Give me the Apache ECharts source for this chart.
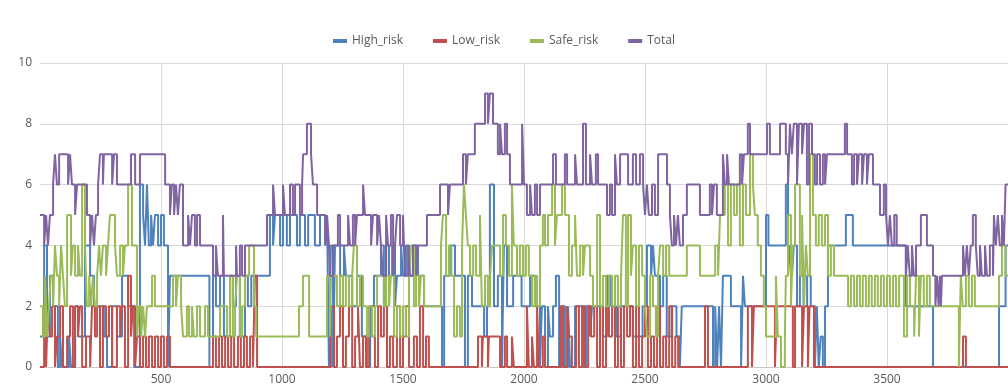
<!DOCTYPE html>
<html>
<head>
<meta charset="utf-8">
<script src="https://cdn.jsdelivr.net/npm/echarts@6/dist/echarts.min.js"></script>
<style>html,body{margin:0;padding:0;background:#fff;}#chart{width:1008px;height:390px;}</style>
</head>
<body>
<div id="chart"></div>
<script>
const seriesNames = ['High_risk', 'Low_risk', 'Safe_risk', 'Total'];

const highRisk = [[0,1],[17,4],[29,1],[41,3],[54,2],[74,0],[83,1],[91,0],[120,1],[128,0],[145,2],[157,1],[186,4],[207,3],[223,2],[264,1],[277,0],[298,2],[318,1],[339,3],[364,2],[389,0],[413,6],[426,5],[434,4],[442,6],[450,4],[459,5],[467,4],[475,5],[488,4],[500,5],[512,4],[529,0],[537,3],[700,0],[715,3],[727,2],[744,3],[760,1],[785,3],[797,2],[810,3],[826,1],[847,3],[859,2],[873,3],[950,5],[963,4],[971,5],[992,4],[1004,5],[1020,4],[1033,5],[1062,4],[1074,5],[1095,4],[1108,5],[1136,4],[1157,5],[1178,4],[1186,5],[1194,0],[1202,4],[1211,0],[1219,4],[1240,3],[1256,4],[1264,3],[1290,2],[1310,3],[1330,1],[1351,0],[1364,2],[1380,3],[1409,4],[1421,2],[1430,4],[1442,3],[1455,4],[1467,2],[1475,3],[1492,4],[1500,3],[1512,4],[1525,3],[1541,4],[1562,3],[1587,2],[1661,0],[1670,3],[1694,4],[1715,3],[1756,0],[1768,3],[1785,2],[1835,1],[1847,2],[1859,6],[1876,2],[1892,3],[1909,0],[1917,4],[1930,2],[1955,3],[1990,2],[2025,3],[2045,2],[2066,0],[2074,2],[2087,0],[2099,2],[2107,1],[2120,2],[2132,3],[2145,0],[2157,2],[2169,0],[2182,2],[2190,0],[2211,2],[2244,0],[2256,2],[2273,1],[2281,2],[2326,1],[2343,3],[2360,2],[2380,1],[2400,2],[2450,1],[2490,2],[2508,4],[2525,3],[2533,4],[2541,3],[2562,2],[2575,3],[2590,1],[2610,2],[2630,1],[2644,0],[2652,2],[2781,0],[2790,2],[2798,0],[2806,2],[2814,0],[2822,3],[2855,2],[2897,0],[2905,3],[2913,2],[3000,5],[3010,4],[3082,6],[3091,3],[3099,4],[3107,3],[3115,4],[3128,2],[3140,3],[3155,2],[3170,3],[3185,2],[3202,0],[3210,2],[3218,0],[3226,1],[3235,0],[3244,2],[3256,4],[3330,5],[3359,4],[3578,2],[3690,0],[3963,2],[3990,4],[4000,4]];

const lowRisk = [[0,0],[17,2],[25,0],[33,2],[41,1],[50,2],[62,0],[70,1],[83,2],[95,0],[112,1],[124,2],[136,0],[145,2],[157,1],[165,2],[174,0],[190,1],[207,0],[215,2],[227,1],[236,2],[248,0],[260,2],[273,1],[285,2],[298,0],[318,2],[331,1],[339,2],[351,0],[364,3],[376,1],[384,2],[393,0],[401,1],[413,0],[426,1],[438,0],[450,1],[463,0],[475,1],[488,0],[500,1],[512,0],[525,1],[537,0],[715,1],[727,0],[740,1],[752,0],[765,1],[777,0],[790,1],[802,0],[818,1],[830,0],[843,1],[855,0],[868,1],[880,0],[888,3],[897,0],[1202,2],[1215,0],[1227,1],[1240,2],[1252,0],[1264,1],[1277,2],[1290,0],[1302,1],[1314,2],[1322,0],[1335,1],[1347,0],[1360,2],[1372,1],[1384,0],[1397,2],[1409,1],[1421,2],[1434,0],[1446,1],[1459,0],[1475,2],[1488,0],[1500,1],[1512,2],[1525,0],[1545,1],[1558,0],[1570,2],[1583,0],[1595,1],[1607,0],[1810,1],[1826,0],[1830,1],[1851,0],[1855,1],[1901,0],[1921,1],[1930,0],[1950,1],[1958,0],[2012,2],[2020,0],[2033,1],[2041,0],[2054,2],[2062,0],[2078,1],[2087,0],[2149,2],[2161,0],[2178,2],[2186,1],[2198,0],[2215,2],[2227,0],[2240,2],[2252,0],[2265,2],[2277,1],[2290,2],[2302,0],[2314,2],[2326,0],[2339,2],[2351,1],[2364,2],[2376,0],[2388,2],[2401,0],[2413,2],[2426,1],[2438,2],[2450,0],[2463,2],[2475,0],[2488,1],[2500,2],[2512,0],[2525,1],[2537,0],[2550,2],[2562,0],[2575,1],[2587,0],[2600,2],[2612,0],[2625,1],[2637,0],[2748,2],[2760,0],[2925,2],[2942,0],[2950,2],[3037,0],[3045,2],[3111,0],[3120,2],[3149,0],[3157,2],[3173,0],[3180,2],[3198,0],[3814,1],[3826,0],[4000,0]];

const safeRisk = [[0,2],[12,1],[21,3],[29,1],[37,2],[45,3],[54,2],[62,4],[70,3],[79,2],[87,4],[95,3],[103,2],[112,5],[128,3],[136,4],[145,3],[157,4],[165,3],[174,6],[186,4],[194,2],[203,3],[211,2],[219,3],[227,2],[236,3],[244,4],[252,3],[260,4],[273,3],[281,4],[289,5],[310,4],[318,3],[331,4],[343,3],[351,4],[364,6],[380,4],[401,1],[409,2],[418,1],[426,2],[434,1],[442,2],[463,3],[475,2],[550,3],[562,2],[570,3],[583,2],[591,1],[607,2],[616,1],[628,2],[636,1],[649,2],[661,1],[682,2],[694,1],[744,2],[773,1],[785,3],[797,1],[806,2],[814,3],[826,1],[835,2],[847,3],[864,4],[884,2],[893,1],[1070,2],[1087,3],[1112,1],[1186,3],[1198,1],[1202,3],[1227,2],[1240,3],[1252,2],[1264,3],[1277,2],[1290,3],[1297,4],[1310,2],[1322,3],[1335,2],[1351,1],[1360,2],[1372,1],[1384,2],[1393,3],[1421,2],[1430,3],[1442,2],[1450,3],[1463,1],[1475,2],[1488,1],[1500,2],[1512,1],[1525,3],[1533,4],[1545,2],[1554,3],[1566,2],[1574,3],[1587,2],[1657,4],[1665,5],[1678,3],[1690,4],[1700,3],[1711,1],[1723,2],[1735,1],[1744,4],[1752,6],[1760,5],[1768,4],[1777,3],[1790,4],[1802,3],[1818,5],[1826,2],[1839,3],[1851,2],[1860,3],[1868,4],[1901,3],[1913,5],[1925,4],[1938,3],[1950,6],[1958,4],[1971,3],[1983,4],[1996,3],[2008,4],[2020,3],[2033,2],[2045,3],[2054,2],[2066,4],[2078,5],[2087,4],[2099,5],[2116,6],[2128,4],[2136,5],[2157,6],[2169,5],[2186,3],[2198,4],[2211,5],[2219,3],[2232,4],[2244,3],[2252,4],[2273,3],[2285,2],[2302,5],[2314,2],[2326,3],[2339,2],[2351,3],[2364,2],[2376,3],[2388,2],[2401,3],[2409,5],[2421,2],[2430,5],[2442,3],[2450,4],[2463,2],[2475,4],[2488,3],[2500,2],[2508,1],[2521,3],[2533,2],[2545,1],[2554,3],[2562,4],[2575,3],[2587,4],[2600,3],[2673,4],[2727,3],[2790,4],[2802,3],[2810,5],[2830,6],[2843,4],[2855,6],[2868,5],[2880,6],[2892,4],[2905,6],[2917,5],[2934,7],[2946,6],[2954,5],[2966,4],[2979,3],[2991,2],[3000,1],[3041,3],[3049,1],[3062,0],[3078,1],[3082,3],[3091,5],[3103,2],[3111,4],[3120,6],[3140,3],[3149,5],[3157,2],[3165,4],[3173,3],[3182,7],[3194,5],[3206,4],[3218,5],[3231,4],[3244,5],[3256,3],[3268,4],[3281,3],[3339,2],[3351,3],[3364,2],[3376,3],[3388,2],[3400,3],[3413,2],[3425,3],[3437,2],[3450,3],[3462,2],[3475,3],[3487,2],[3500,3],[3512,2],[3525,3],[3537,2],[3550,3],[3570,1],[3583,3],[3595,2],[3612,1],[3620,3],[3632,1],[3640,3],[3652,2],[3665,3],[3677,2],[3797,0],[3805,3],[3813,2],[3826,3],[3838,2],[3851,3],[3863,2],[3963,3],[3975,4],[3990,3],[4000,3]];

const total = [[0,5],[17,4],[25,5],[33,4],[41,5],[54,6],[62,7],[70,6],[79,7],[116,6],[124,7],[132,6],[145,5],[153,6],[194,5],[207,4],[215,5],[223,4],[231,5],[240,6],[248,7],[260,6],[264,7],[298,6],[306,7],[318,6],[376,7],[393,6],[413,7],[517,6],[537,5],[545,6],[554,5],[562,6],[570,5],[578,6],[591,4],[612,5],[620,4],[628,5],[640,4],[649,5],[661,4],[715,3],[727,4],[735,3],[756,5],[760,3],[810,4],[814,3],[826,4],[835,3],[847,4],[938,5],[963,6],[971,5],[1004,6],[1012,5],[1033,6],[1045,5],[1054,6],[1074,5],[1083,6],[1087,7],[1103,8],[1120,7],[1128,6],[1145,5],[1178,4],[1186,5],[1194,4],[1198,3],[1211,4],[1231,5],[1240,4],[1273,5],[1281,4],[1293,5],[1302,4],[1310,5],[1335,6],[1343,5],[1368,4],[1376,5],[1393,4],[1401,5],[1409,4],[1417,3],[1430,5],[1438,4],[1450,5],[1459,3],[1467,4],[1475,5],[1488,4],[1500,5],[1508,3],[1521,4],[1529,3],[1541,4],[1554,3],[1562,4],[1599,5],[1653,6],[1686,5],[1694,6],[1748,7],[1760,6],[1768,7],[1797,8],[1839,9],[1851,8],[1859,9],[1872,8],[1892,7],[1901,8],[1909,7],[1921,8],[1930,7],[1942,6],[1992,8],[2000,6],[2012,5],[2025,6],[2033,5],[2045,6],[2054,5],[2066,6],[2120,7],[2132,6],[2169,7],[2178,6],[2211,7],[2219,6],[2244,8],[2256,6],[2273,7],[2281,6],[2297,7],[2306,6],[2343,5],[2355,6],[2364,5],[2376,7],[2384,6],[2397,7],[2430,6],[2450,7],[2463,6],[2479,7],[2492,6],[2500,5],[2508,6],[2516,5],[2529,6],[2541,5],[2554,7],[2591,6],[2603,5],[2611,4],[2620,5],[2628,4],[2636,5],[2644,4],[2657,5],[2673,6],[2727,5],[2768,6],[2777,5],[2785,6],[2797,5],[2822,7],[2830,6],[2839,7],[2847,6],[2892,7],[2901,6],[2909,7],[2925,8],[2934,7],[3004,8],[3016,7],[3058,8],[3082,7],[3091,6],[3099,8],[3107,7],[3115,8],[3128,6],[3136,8],[3149,7],[3157,8],[3169,6],[3178,8],[3190,7],[3202,6],[3211,7],[3223,6],[3235,7],[3244,6],[3252,7],[3326,8],[3335,7],[3355,6],[3364,7],[3376,6],[3384,7],[3397,6],[3405,7],[3417,6],[3425,7],[3442,6],[3471,5],[3487,6],[3496,5],[3504,4],[3512,5],[3520,4],[3530,5],[3540,4],[3578,3],[3586,4],[3594,3],[3603,4],[3611,3],[3620,4],[3640,5],[3665,4],[3690,3],[3700,2],[3707,3],[3713,2],[3719,3],[3723,2],[3727,3],[3814,4],[3822,3],[3830,4],[3838,3],[3846,4],[3855,5],[3867,4],[3875,3],[3884,4],[3892,3],[3905,4],[3913,3],[3925,4],[3938,3],[3942,5],[3950,4],[3958,5],[3966,4],[3975,5],[3983,4],[3990,6],[4000,6]];

const colors = ['#4F81BD', '#C0504D', '#9BBB59', '#8064A2'];
const seriesData = [highRisk, lowRisk, safeRisk, total];

const chart = echarts.init(document.getElementById('chart'), null, {renderer: 'canvas'});
const font = '"Open Sans", "Liberation Sans", sans-serif';
chart.setOption({
  animation: false,
  color: colors,
  textStyle: {fontFamily: font},
  legend: {
    top: 30,
    left: 'center',
    icon: 'rect',
    itemWidth: 14,
    itemHeight: 4,
    itemGap: 30,
    textStyle: {color: '#595959', fontSize: 12, fontFamily: font},
    data: seriesNames
  },
  grid: {left: 40, right: 0, top: 63, bottom: 23, containLabel: false},
  xAxis: {
    type: 'value',
    min: 0,
    max: 4000,
    interval: 500,
    axisLine: {show: true, lineStyle: {color: '#c8c8c8', width: 1}},
    axisTick: {show: false},
    axisLabel: {color: '#595959', fontSize: 12, fontFamily: font, showMinLabel: false, showMaxLabel: false, margin: 7,
      formatter: function (v) { return String(v); }},
    splitLine: {show: true, showMinLine: false, showMaxLine: false, lineStyle: {color: '#d9d9d9', width: 1}}
  },
  yAxis: {
    type: 'value',
    min: 0,
    max: 10,
    interval: 2,
    axisLine: {show: false},
    axisTick: {show: false},
    axisLabel: {color: '#595959', fontSize: 12, fontFamily: font, margin: 8},
    splitLine: {show: true, lineStyle: {color: '#d9d9d9', width: 1}}
  },
  series: seriesNames.map((name, i) => ({
    name: name,
    type: 'line',
    step: 'end',
    data: seriesData[i],
    showSymbol: false,
    symbol: 'none',
    lineStyle: {width: 2, color: colors[i]},
    itemStyle: {color: colors[i]},
    z: 2 + i
  }))
});
</script>
</body>
</html>
